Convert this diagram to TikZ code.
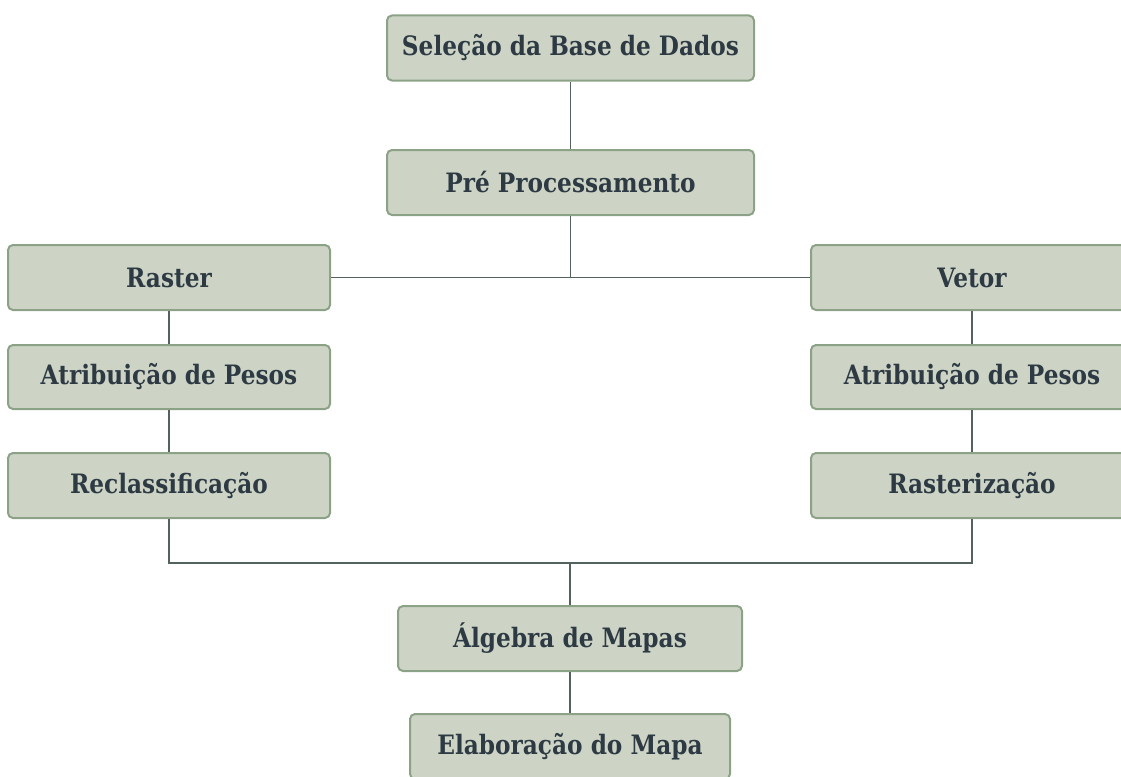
\documentclass[tikz,border=0pt]{standalone}
\usepackage{fontspec}
\setmainfont[FakeStretch=0.87]{DejaVu Serif}
\usetikzlibrary{positioning}
\definecolor{boxfill}{HTML}{CDD4C6}
\definecolor{boxline}{HTML}{8CA287}
\definecolor{txt}{HTML}{2E3A43}
\definecolor{conn}{HTML}{53635B}
\tikzset{
  stepbox/.style={draw=boxline, line width=2pt, fill=boxfill, rounded corners=5pt,
    minimum height=65pt, inner sep=0pt, text=txt,
    font=\fontsize{26.7}{30}\selectfont\bfseries},
  conn/.style={draw=conn, line width=1.6pt}
}
\begin{document}
\begin{tikzpicture}[x=1pt,y=-1pt]
\useasboundingbox (0,0) rectangle (1121,776);
\clip (0,0) rectangle (1121,776);
\node[stepbox, minimum width=367pt] (sel) at (570.5,48) {Seleção da Base de Dados};
\node[stepbox, minimum width=367pt] (pre) at (570.5,182.5) {Pré Processamento};
\node[stepbox, minimum width=322pt] (raster) at (169,277.5) {Raster};
\node[stepbox, minimum width=322pt] (vetor) at (972,277.5) {Vetor};
\node[stepbox, minimum width=322pt, minimum height=64pt] (atl) at (169,377) {Atribuição de Pesos};
\node[stepbox, minimum width=322pt, minimum height=64pt] (atr) at (972,377) {Atribuição de Pesos};
\node[stepbox, minimum width=322pt] (recl) at (169,485.5) {Reclassificação};
\node[stepbox, minimum width=322pt] (rasz) at (972,485.5) {Rasterização};
\node[stepbox, minimum width=344pt] (alg) at (570,638.5) {Álgebra de Mapas};
\node[stepbox, minimum width=320pt] (elab) at (570,746.5) {Elaboração do Mapa};
\coordinate (jb) at (570,563);
\draw[conn] (sel.south) -- (pre.north);
\draw[conn] (pre.south) -- (pre.south |- raster.east);
\draw[conn] (raster.east) -- (vetor.west);
\draw[conn] (raster.south) -- (atl.north);
\draw[conn] (atl.south) -- (recl.north);
\draw[conn] (vetor.south) -- (atr.north);
\draw[conn] (atr.south) -- (rasz.north);
\draw[conn] (recl.south) |- (jb) -| (rasz.south);
\draw[conn] (jb) -- (alg.north);
\draw[conn] (alg.south) -- (elab.north);
\end{tikzpicture}
\end{document}
